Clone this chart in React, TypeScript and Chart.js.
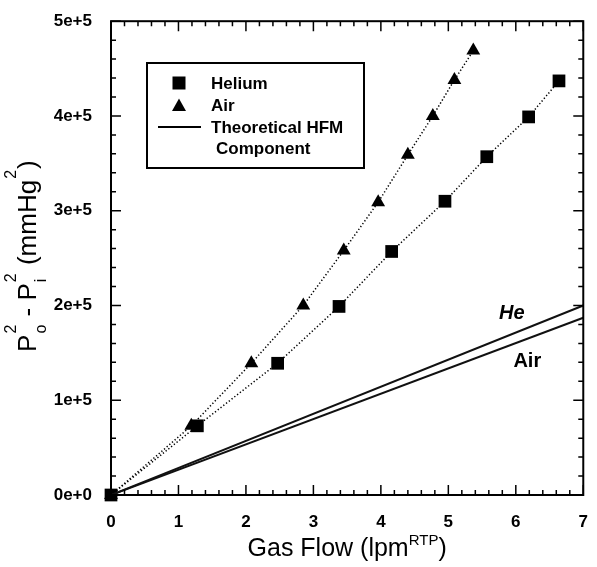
import React, { useEffect, useRef } from "react";
import { Chart, registerables } from "chart.js";

Chart.register(...registerables);

// ---- data ----
const heliumX = [0, 1.28, 2.47, 3.38, 4.16, 4.95, 5.57, 6.19, 6.64];
const heliumY = [0, 73000, 139000, 199000, 257000, 310000, 357000, 399000, 437000];
const airX = [0, 1.19, 2.08, 2.85, 3.45, 3.96, 4.4, 4.77, 5.09, 5.37];
const airY = [0, 73000, 139000, 200000, 258000, 309000, 359000, 400000, 438000, 469000];
const theoryX = [0, 7];
const theoryHeY = [0, 200000];
const theoryAirY = [0, 187000];
const xTickLabels = ["0", "1", "2", "3", "4", "5", "6", "7"];
const yTickLabels = ["0e+0", "1e+5", "2e+5", "3e+5", "4e+5", "5e+5"];
const legendLabels = ["Helium", "Air", "Theoretical HFM", "Component"];
const lineLabels = [
  { text: "He", x: 5.94, y: 192000, italic: true },
  { text: "Air", x: 6.17, y: 141000, italic: false },
];

const FONT = "'Liberation Sans', Arial, sans-serif";

const pts = (xs: number[], ys: number[]) => xs.map((x, i) => ({ x, y: ys[i] }));

const decorPlugin = {
  id: "decor",
  afterDraw(chart: any) {
    const ctx = chart.ctx as CanvasRenderingContext2D;
    const { left, right, top, bottom } = chart.chartArea;
    const xs = chart.scales.x;
    const ys = chart.scales.y;
    ctx.save();
    ctx.strokeStyle = "#000";
    ctx.fillStyle = "#000";

    // frame
    ctx.lineWidth = 2;
    ctx.strokeRect(left, top, right - left, bottom - top);

    // inner ticks
    ctx.lineWidth = 1.5;
    for (let i = 0; i <= 35; i++) {
      const px = xs.getPixelForValue(i * 0.2);
      const len = i % 5 === 0 ? 10 : 5;
      ctx.beginPath();
      ctx.moveTo(px, bottom);
      ctx.lineTo(px, bottom - len);
      ctx.moveTo(px, top);
      ctx.lineTo(px, top + len);
      ctx.stroke();
    }
    for (let i = 0; i <= 25; i++) {
      const py = ys.getPixelForValue(i * 20000);
      const len = i % 5 === 0 ? 10 : 5;
      ctx.beginPath();
      ctx.moveTo(left, py);
      ctx.lineTo(left + len, py);
      ctx.moveTo(right, py);
      ctx.lineTo(right - len, py);
      ctx.stroke();
    }

    // legend box
    ctx.lineWidth = 2;
    ctx.strokeRect(147, 63, 217, 105);
    // square
    ctx.fillRect(179 - 6.5, 83 - 6.5, 13, 13);
    // triangle
    ctx.beginPath();
    ctx.moveTo(179, 106 - 7.5);
    ctx.lineTo(179 + 7, 106 + 5);
    ctx.lineTo(179 - 7, 106 + 5);
    ctx.closePath();
    ctx.fill();
    // line
    ctx.lineWidth = 2;
    ctx.beginPath();
    ctx.moveTo(158, 127);
    ctx.lineTo(201, 127);
    ctx.stroke();
    ctx.font = `bold 17px ${FONT}`;
    ctx.textBaseline = "middle";
    ctx.textAlign = "left";
    ctx.fillText(legendLabels[0], 211, 84);
    ctx.fillText(legendLabels[1], 211, 106);
    ctx.fillText(legendLabels[2], 211, 128);
    ctx.fillText(legendLabels[3], 216, 149);

    // line labels
    ctx.textAlign = "center";
    for (const l of lineLabels) {
      ctx.font = `${l.italic ? "italic " : ""}bold 20px ${FONT}`;
      ctx.fillText(l.text, xs.getPixelForValue(l.x), ys.getPixelForValue(l.y));
    }

    // x title
    ctx.textBaseline = "alphabetic";
    ctx.textAlign = "left";
    const mainX = `25px ${FONT}`;
    const supX = `15px ${FONT}`;
    const xParts: [string, string, number][] = [
      ["Gas Flow (lpm", mainX, 0],
      ["RTP", supX, -11],
      [")", mainX, 0],
    ];
    let w = 0;
    for (const [t, f] of xParts) {
      ctx.font = f;
      w += ctx.measureText(t).width;
    }
    let cx = (left + right) / 2 - w / 2;
    for (const [t, f, dy] of xParts) {
      ctx.font = f;
      ctx.fillText(t, cx, 556 + dy);
      cx += ctx.measureText(t).width;
    }

    // y title (rotated) with stacked sub/superscripts
    const mainY = `26px ${FONT}`;
    const smallY = `16px ${FONT}`;
    type Seg = { t?: string; sup?: string; sub?: string };
    const segs: Seg[] = [
      { t: "P" },
      { sup: "2", sub: "o" },
      { t: " - P" },
      { sup: "2", sub: "i" },
      { t: " (mmHg" },
      { sup: "2" },
      { t: ")" },
    ];
    const segW = (s: Seg) => {
      if (s.t) {
        ctx.font = mainY;
        return ctx.measureText(s.t).width;
      }
      ctx.font = smallY;
      return Math.max(ctx.measureText(s.sup || "").width, ctx.measureText(s.sub || "").width) + 2;
    };
    let tw = 0;
    for (const s of segs) tw += segW(s);
    ctx.translate(36, (top + bottom) / 2 - 2);
    ctx.rotate(-Math.PI / 2);
    let sx = -tw / 2;
    for (const s of segs) {
      const sw = segW(s);
      if (s.t) {
        ctx.font = mainY;
        ctx.fillText(s.t, sx, 0);
      } else {
        ctx.font = smallY;
        if (s.sup) ctx.fillText(s.sup, sx + 1, -20);
        if (s.sub) ctx.fillText(s.sub, sx + 1, 10);
      }
      sx += sw;
    }
    ctx.restore();
  },
};

export default function App() {
  const ref = useRef<HTMLCanvasElement>(null);
  useEffect(() => {
    if (!ref.current) return;
    const chart = new Chart(ref.current, {
      type: "scatter",
      data: {
        datasets: [
          {
            label: "Theoretical He",
            data: pts(theoryX, theoryHeY),
            showLine: true,
            borderColor: "#111",
            borderWidth: 2,
            pointRadius: 0,
          },
          {
            label: "Theoretical Air",
            data: pts(theoryX, theoryAirY),
            showLine: true,
            borderColor: "#111",
            borderWidth: 2,
            pointRadius: 0,
          },
          {
            label: "Helium",
            data: pts(heliumX, heliumY),
            showLine: true,
            borderColor: "#000",
            borderWidth: 1.5,
            borderDash: [1.3, 2.2],
            pointStyle: "rect",
            pointRadius: 9,
            pointBackgroundColor: "#000",
            pointBorderColor: "#000",
            pointBorderWidth: 0,
            clip: false,
          } as any,
          {
            label: "Air",
            data: pts(airX, airY),
            showLine: true,
            borderColor: "#000",
            borderWidth: 1.5,
            borderDash: [1.3, 2.2],
            pointStyle: "triangle",
            pointRadius: 8,
            pointBackgroundColor: "#000",
            pointBorderColor: "#000",
            pointBorderWidth: 0,
            clip: false,
          } as any,
        ],
      },
      options: {
        animation: false,
        responsive: false,
        events: [],
        layout: { padding: { top: 20, right: 5, left: 0, bottom: 0 } },
        plugins: { legend: { display: false }, tooltip: { enabled: false } },
        scales: {
          x: {
            type: "linear",
            min: 0,
            max: 7,
            grid: { display: false },
            border: { display: false },
            afterFit: (s: any) => {
              s.height = 72;
            },
            ticks: {
              stepSize: 1,
              padding: 9,
              color: "#000",
              font: { family: FONT, size: 17, weight: "bold" },
              callback: (v: any) => xTickLabels[Math.round(Number(v))] ?? "",
            },
          },
          y: {
            type: "linear",
            min: 0,
            max: 500000,
            grid: { display: false },
            border: { display: false },
            afterFit: (s: any) => {
              s.width = 111;
            },
            ticks: {
              stepSize: 100000,
              padding: 11,
              color: "#000",
              font: { family: FONT, size: 17, weight: "bold" },
              callback: (v: any) => yTickLabels[Math.round(Number(v) / 100000)] ?? "",
            },
          },
        },
      },
      plugins: [decorPlugin],
    });
    return () => chart.destroy();
  }, []);
  return (
    <div style={{ position: "fixed", left: 0, top: 0, width: 597, height: 567, background: "#fff" }}>
      <canvas ref={ref} width={597} height={567} />
    </div>
  );
}
